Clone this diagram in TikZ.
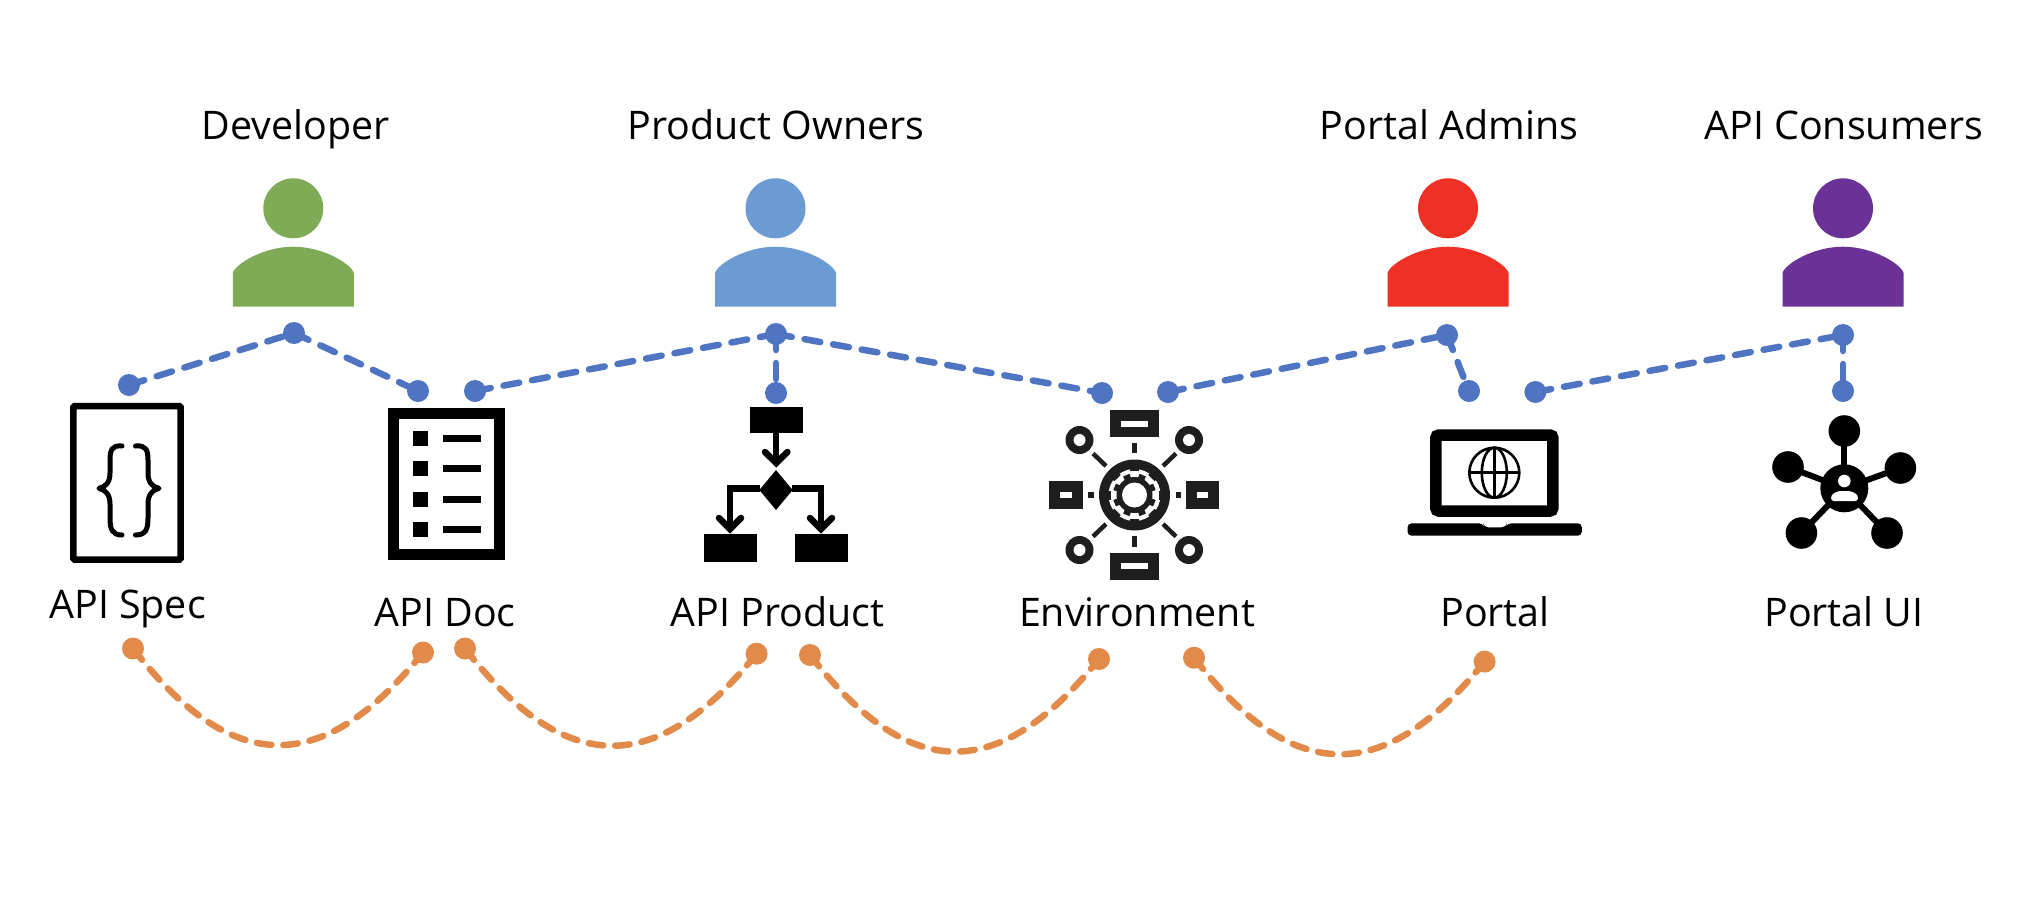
\documentclass[tikz,border=0pt]{standalone}
\usepackage{fontspec}
\setmainfont{Open Sans}
\definecolor{dotblue}{HTML}{4F74C1}
\definecolor{dotorange}{HTML}{E28A4A}
\definecolor{pgreen}{HTML}{7FAB57}
\definecolor{pblue}{HTML}{6B9BD2}
\definecolor{pred}{HTML}{EE3124}
\definecolor{ppurple}{HTML}{6A3296}
\definecolor{envdark}{HTML}{1E1E1E}
\tikzset{
  bdot/.style={circle,fill=dotblue,draw=none,minimum size=22pt,inner sep=0pt},
  odot/.style={circle,fill=dotorange,draw=none,minimum size=22pt,inner sep=0pt},
  blink/.style={draw=dotblue,line width=6.5pt,line cap=round,dash pattern=on 16pt off 13pt},
  olink/.style={draw=dotorange,line width=6.5pt,line cap=round,dash pattern=on 14.5pt off 12pt},
  lbl/.style={anchor=base,inner sep=0pt,font=\fontsize{39.4}{42}\selectfont,text=black},
}
\newcommand{\personshape}[2]{%
  \begin{scope}[shift={(#1,0)}]
    \fill[#2] (0,208.3) circle[radius=30];
    \fill[#2] (-60.5,306.7) -- (-60.5,273) .. controls (-58,264) and (-30,246.7) .. (0,246.7)
      .. controls (30,246.7) and (58,264) .. (60.5,273) -- (60.5,306.7) -- cycle;
  \end{scope}}
\begin{document}
\begin{tikzpicture}[x=1pt,y=-1pt]
\useasboundingbox (0,0) rectangle (2042,898);
\fill[white] (0,0) rectangle (2042,898);
% people
\personshape{293.3}{pgreen}
\personshape{775.5}{pblue}
\personshape{1448}{pred}
\personshape{1843}{ppurple}
% labels
\node[lbl] (developer) at (295.6,139) {Developer};
\node[lbl] (owners) at (776,139) {Product Owners};
\node[lbl] (admins) at (1449,139) {Portal Admins};
\node[lbl] (consumers) at (1844,139) {API Consumers};
\node[lbl] (spec) at (127.6,618) {API Spec};
\node[lbl] (doc) at (445,626) {API Doc};
\node[lbl] (product) at (777.5,626) {API Product};
\node[lbl] (environment) at (1137,626) {Environment};
\node[lbl] (portal) at (1495,626) {Portal};
\node[lbl] (portalui) at (1844,626) {Portal UI};
% API Spec icon
\draw[line width=6.5pt,rounded corners=1.5pt] (73.3,406) rectangle (180.7,559.7);
\draw[line width=5pt,line cap=round,line join=round]
  (122,446) .. controls (112,445) and (110,450) .. (110,460) -- (110,473)
  .. controls (110,482) and (106,487) .. (99,488.3)
  .. controls (106,490) and (110,495) .. (110,504) -- (110,518)
  .. controls (110,529) and (112,535) .. (122,535);
\draw[line width=5pt,line cap=round,line join=round]
  (135.5,446) .. controls (146,445) and (148,450) .. (148,460) -- (148,473)
  .. controls (148,482) and (152,487) .. (159,488.3)
  .. controls (152,490) and (148,495) .. (148,504) -- (148,518)
  .. controls (148,529) and (146,535) .. (135.5,535);
% API Doc icon
\draw[line width=11pt] (393.8,413.8) rectangle (499.5,554.5);
\foreach \yy in {438.7,468.7,499,529}{
  \fill (412.7,\yy-7.5) rectangle (427.7,\yy+7.5);
  \fill (442.7,\yy-3.5) rectangle (480.7,\yy+3.5);
}
% API Product icon
\fill (749.6,406.7) rectangle (802.5,433.3);
\fill (704,534.3) rectangle (757,561.7);
\fill (795,534.3) rectangle (847.6,561.7);
\draw[line width=6.5pt] (776.2,433) -- (776.2,462);
\draw[line width=6.5pt,line cap=round,line join=miter] (765,452) -- (776.2,463) -- (787.4,452);
\fill (776,470) -- (792.6,490) -- (776,510) -- (759.4,490) -- cycle;
\draw[line width=6.5pt] (760,488.3) -- (730,488.3) -- (730,528);
\draw[line width=6.5pt] (792,488.3) -- (821,488.3) -- (821,528);
\draw[line width=6.5pt,line cap=round,line join=miter] (719,518) -- (730,529) -- (741,518);
\draw[line width=6.5pt,line cap=round,line join=miter] (810,518) -- (821,529) -- (832,518);
% Environment icon
\begin{scope}[envdark]
  \fill (1110,410) rectangle (1159,437.3);
  \fill[white] (1121,420.7) rectangle (1148,426.7);
  \fill (1110,552.7) rectangle (1159,580);
  \fill[white] (1121,563.3) rectangle (1148,569.3);
  \fill (1049,481) rectangle (1082.5,509);
  \fill[white] (1060,492.3) rectangle (1071.5,497.7);
  \fill (1186,481) rectangle (1219.4,509);
  \fill[white] (1197,492.3) rectangle (1208,497.7);
  \fill (1132,443.3) rectangle (1136.5,453.3);
  \fill (1132,536) rectangle (1136.5,546.7);
  \fill (1088,492.2) rectangle (1093.5,497.8);
  \fill (1175.5,492.2) rectangle (1181,497.8);
  \foreach \cx/\cy in {1079.5/440,1189/440,1079.5/550,1189/550}{
    \fill (\cx,\cy) circle[radius=14];
    \fill[white] (\cx,\cy) circle[radius=6];
  }
  \foreach \sx/\sy in {1/1,-1/1,1/-1,-1/-1}{
    \draw[envdark,line width=4.5pt] (1134.5+\sx*41.5,495-\sy*41.5) -- (1134.5+\sx*28.5,495-\sy*29);
  }
  \begin{scope}[shift={(1134.5,495)}]
    \fill (0,0) circle[radius=35.5];
    \fill[white] (0,0) circle[radius=26];
    \foreach \a in {0,45,...,315}{
      \fill[rotate=\a] (-4.5,-27) rectangle (4.5,-24);
    }
    \fill (0,0) circle[radius=18];
    \foreach \a in {22.5,67.5,...,337.5}{
      \fill[rotate=\a] (-3.4,-21.5) rectangle (3.4,-16);
    }
    \fill[white] (0,0) circle[radius=12.5];
  \end{scope}
\end{scope}
% Portal icon
\draw[line width=11.5pt,rounded corners=3pt] (1435.8,435) -- (1552.8,435) -- (1552.8,511) -- (1435.8,511) -- cycle;
\fill[rounded corners=4pt] (1407.5,523.3) -- (1483,523.3) -- (1484,527.3) -- (1506,527.3) -- (1507,523.3) -- (1581.8,523.3) -- (1581.8,535.7) -- (1407.5,535.7) -- cycle;
\begin{scope}[line width=2.6pt]
  \draw (1494.3,472.7) circle[radius=25];
  \draw (1494.3,472.7) ellipse[x radius=12.5,y radius=25];
  \draw (1494.3,447.7) -- (1494.3,497.7);
  \draw (1469.5,472.7) -- (1519,472.7);
\end{scope}
% Portal UI icon
\foreach \nx/\ny in {1844.3/431,1788/467,1900.4/468,1801.4/533,1887/533}{
  \draw[line width=6pt] (1844.3,488.3) -- (\nx,\ny);
  \fill (\nx,\ny) circle[radius=15.8];
}
\fill (1844.3,488.3) circle[radius=24];
\fill[white] (1844.3,481) circle[radius=6.3];
\fill[white,rounded corners=3pt] (1831,501) -- (1831,495) -- (1838,491) -- (1851,491) -- (1858,495) -- (1858,501) -- cycle;
% blue dots
\node[bdot] (b1) at (129,385) {};
\node[bdot] (b2) at (294,333) {};
\node[bdot] (b3) at (418,391) {};
\node[bdot] (b4) at (475,391) {};
\node[bdot] (b5) at (776,334) {};
\node[bdot] (b6) at (776,393) {};
\node[bdot] (b7) at (1102,393) {};
\node[bdot] (b8) at (1168,392) {};
\node[bdot] (b9) at (1447,335) {};
\node[bdot] (b10) at (1469,391) {};
\node[bdot] (b11) at (1535.4,392) {};
\node[bdot] (b12) at (1843,335) {};
\node[bdot] (b13) at (1843,391) {};
\foreach \p/\q in {b1/b2,b2/b3,b4/b5,b5/b6,b5/b7,b8/b9,b9/b10,b11/b12,b12/b13}{
  \draw[blink] (\p.center) -- (\q.center);
}
% orange dots
\node[odot] (o1) at (133,648.5) {};
\node[odot] (o2) at (423,652.5) {};
\node[odot] (o3) at (465,648.5) {};
\node[odot] (o4) at (756.6,653.7) {};
\node[odot] (o5) at (810,655) {};
\node[odot] (o6) at (1099,659) {};
\node[odot] (o7) at (1194,657.7) {};
\node[odot] (o8) at (1484.6,661.6) {};
\draw[olink] (o1.center) .. controls +(95,122) and +(-105,130) .. (o2.center);
\draw[olink] (o3.center) .. controls +(95,122) and +(-105,130) .. (o4.center);
\draw[olink] (o5.center) .. controls +(95,122) and +(-105,130) .. (o6.center);
\draw[olink] (o7.center) .. controls +(95,122) and +(-105,130) .. (o8.center);
\end{tikzpicture}
\end{document}
